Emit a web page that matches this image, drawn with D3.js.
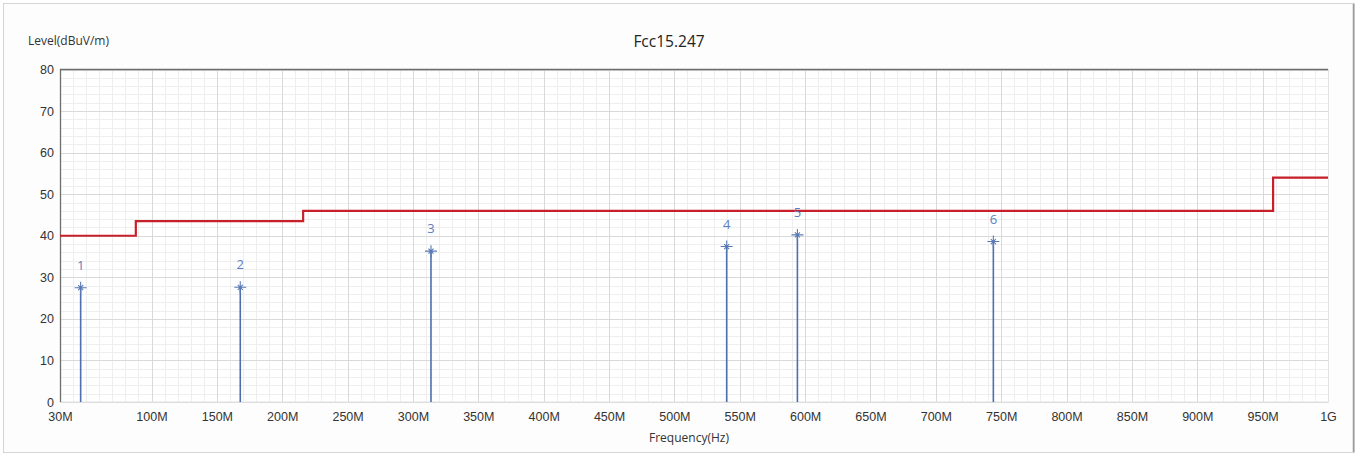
<!DOCTYPE html>
<html lang="en">
<head>
  <meta charset="UTF-8">
  <style>
    body { margin: 0; background: #fff; }
    svg { font-family: "Open Sans", "Noto Sans", sans-serif; }
    .grid-minor line { stroke: #eeeeee; }
    .grid-major line { stroke: #d9d9d9; }
    .axis text { fill: #333; font-size: 12.5px; }
    .axis path, .axis line { display: none; }
  </style>
</head>
<body>
  <svg class="chart"></svg>
  <script src="https://cdnjs.cloudflare.com/ajax/libs/d3/7.8.5/d3.min.js"></script>
  <script>
    // x ticks in MHz, label text
    const xTicks = [30, 100, 150, 200, 250, 300, 350, 400, 450, 500, 550, 600, 650, 700, 750, 800, 850, 900, 950, 1000]
    const xTickLabels = ['30M', '100M', '150M', '200M', '250M', '300M', '350M', '400M', '450M', '500M', '550M', '600M', '650M', '700M', '750M', '800M', '850M', '900M', '950M', '1G']
    const yTicks = [0, 10, 20, 30, 40, 50, 60, 70, 80]

    // limit line (FCC 15.209 steps)
    const limitFreq = [30, 88, 88, 216, 216, 958, 958, 1000]
    const limitLevel = [40, 40, 43.5, 43.5, 46, 46, 54, 54]

    // measured peaks
    const markerId = [1, 2, 3, 4, 5, 6]
    const markerFreq = [45.8, 167.9, 313.8, 540.0, 594.1, 744.0]
    const markerLevel = [27.5, 27.6, 36.3, 37.4, 40.2, 38.6]

    const chart = { width: 1358, height: 455 }
    const plot = { left: 60, right: 1328, top: 69.5, bottom: 402 }

    const x = d3.scaleLinear().domain([30, 1000]).range([plot.left, plot.right])
    const y = d3.scaleLinear().domain([0, 80]).range([plot.bottom, plot.top])

    const svg = d3.select('.chart')
      .attr('width', chart.width)
      .attr('height', chart.height)

    // outer frame
    svg.append('rect')
      .attr('x', 3.5).attr('y', 3.5)
      .attr('width', chart.width - 7).attr('height', chart.height - 6)
      .attr('fill', '#fdfdfd')
      .attr('stroke', '#d4d4d4')
    svg.append('line')
      .attr('x1', chart.width - 4.5).attr('x2', chart.width - 4.5)
      .attr('y1', 4).attr('y2', chart.height - 3)
      .attr('stroke', '#9a9a9a').attr('stroke-width', 1.5)

    svg.append('rect')
      .attr('x', plot.left).attr('y', plot.top)
      .attr('width', plot.right - plot.left).attr('height', plot.bottom - plot.top)
      .attr('fill', '#fff')

    // minor grid
    const minorX = d3.range(30, 1000, 10)
    const minorY = d3.range(0, 80, 2)
    const gMinor = svg.append('g').attr('class', 'grid-minor')
    gMinor.selectAll('.vx').data(minorX).enter().append('line')
      .attr('x1', d => Math.round(x(d)) + 0.5).attr('x2', d => Math.round(x(d)) + 0.5)
      .attr('y1', plot.top).attr('y2', plot.bottom)
    gMinor.selectAll('.hy').data(minorY).enter().append('line')
      .attr('x1', plot.left).attr('x2', plot.right)
      .attr('y1', d => Math.round(y(d)) + 0.5).attr('y2', d => Math.round(y(d)) + 0.5)

    // major grid
    const gMajor = svg.append('g').attr('class', 'grid-major')
    gMajor.selectAll('.vx').data(xTicks).enter().append('line')
      .attr('x1', d => Math.round(x(d)) + 0.5).attr('x2', d => Math.round(x(d)) + 0.5)
      .attr('y1', plot.top).attr('y2', plot.bottom)
    gMajor.selectAll('.hy').data(yTicks).enter().append('line')
      .attr('x1', plot.left).attr('x2', plot.right)
      .attr('y1', d => Math.round(y(d)) + 0.5).attr('y2', d => Math.round(y(d)) + 0.5)

    // plot border
    svg.append('rect')
      .attr('x', plot.left + 0.5).attr('y', plot.top)
      .attr('width', plot.right - plot.left).attr('height', plot.bottom - plot.top)
      .attr('fill', 'none').attr('stroke', '#e2e2e2')
    svg.append('path')
      .attr('d', `M${plot.left + 0.5},${plot.bottom}V${plot.top}H${plot.right}`)
      .attr('fill', 'none').attr('stroke', '#6e6e6e').attr('stroke-width', 1.3)

    // axes
    svg.append('g').attr('class', 'axis')
      .attr('transform', `translate(0,${plot.bottom})`)
      .call(d3.axisBottom(x).tickValues(xTicks).tickSize(0).tickPadding(10)
        .tickFormat((d, i) => xTickLabels[i]))
    svg.append('g').attr('class', 'axis')
      .attr('transform', `translate(${plot.left},0)`)
      .call(d3.axisLeft(y).tickValues(yTicks).tickSize(0).tickPadding(6))

    // limit line
    const limit = limitFreq.map((f, i) => [f, limitLevel[i]])
    svg.append('path')
      .datum(limit)
      .attr('fill', 'none')
      .attr('stroke', '#c8202a')
      .attr('stroke-width', 2.2)
      .attr('d', d3.line().x(d => x(d[0])).y(d => y(d[1])))

    // markers
    const markers = markerId.map((id, i) => ({ id, f: markerFreq[i], v: markerLevel[i] }))
    const m = svg.selectAll('.marker').data(markers).enter().append('g')
    m.append('line')
      .attr('x1', d => x(d.f)).attr('x2', d => x(d.f))
      .attr('y1', d => y(d.v)).attr('y2', y(0))
      .attr('stroke', '#4d6fae').attr('stroke-width', 1.6)
    m.append('path')
      .attr('transform', d => `translate(${x(d.f)},${y(d.v)})`)
      .attr('d', 'M-6,0H6M0,-6V6M-2.5,-2.5L2.5,2.5M-2.5,2.5L2.5,-2.5')
      .attr('stroke', '#5a7ab6').attr('stroke-width', 1.1)
    m.append('text')
      .attr('x', d => x(d.f)).attr('y', d => y(d.v) - 18)
      .attr('text-anchor', 'middle')
      .attr('fill', '#5b7fc2').attr('font-size', 13)
      .text(d => d.id)

    // titles
    svg.append('text')
      .attr('x', 669).attr('y', 47)
      .attr('text-anchor', 'middle')
      .attr('fill', '#222').attr('font-size', 15.5)
      .text('Fcc15.247')
    svg.append('text')
      .attr('x', 28).attr('y', 45)
      .attr('fill', '#333').attr('font-size', 12)
      .text('Level(dBuV/m)')
    svg.append('text')
      .attr('x', 689).attr('y', 442)
      .attr('text-anchor', 'middle')
      .attr('fill', '#333').attr('font-size', 12)
      .text('Frequency(Hz)')
  </script>
</body>
</html>
